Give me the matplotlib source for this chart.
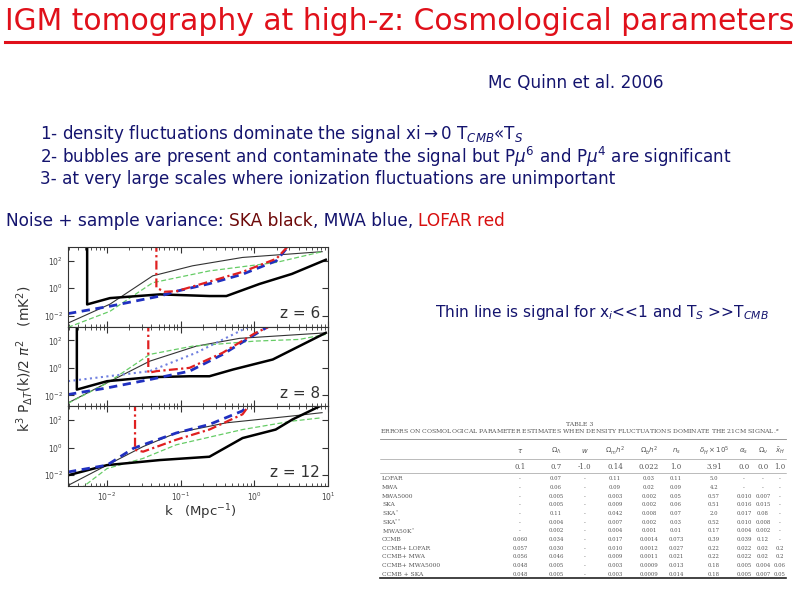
import numpy as np
import matplotlib
matplotlib.use('Agg')
import matplotlib.pyplot as plt
from matplotlib.lines import Line2D
from matplotlib.ticker import NullLocator, LogLocator

W, H = 794, 595

# 面板数据 (log10 k, log10 P) 读自图片
z6_ska_lk = [-2.27, -2.27, -1.96, -1.28, -0.61, -0.38, 0.07, 0.51, 0.97]
z6_ska_lp = [3.3, -1.18, -0.72, -0.45, -0.57, -0.57, 0.31, 1.04, 2.07]
z6_sig_lk = [-2.53, -1.96, -1.38, -0.84, -0.16, 0.92]
z6_sig_lp = [-2.54, -1.16, 0.90, 1.63, 2.24, 2.66]
z6_grn_lk = [-2.53, -1.96, -1.38, -0.61, 0.30, 0.92]
z6_grn_lp = [-2.85, -1.68, 0.40, 1.26, 1.88, 2.66]
z6_mwa_lk = [-2.53, -1.96, -1.28, -1.05, -0.61, -0.16, 0.30, 0.50]
z6_mwa_lp = [-1.85, -1.31, -0.57, -0.21, 0.33, 1.02, 2.00, 3.3]
z6_lof_lk = [-1.33, -1.33, -1.22, -1.05, -0.61, -0.16, 0.30, 0.50]
z6_lof_lp = [3.3, 0.04, -0.26, -0.21, 0.48, 1.19, 2.15, 3.3]

z8_ska_lk = [-2.41, -2.41, -2.00, -1.42, -0.88, -0.61, -0.29, 0.25, 0.97]
z8_ska_lp = [3.3, -1.58, -0.97, -0.68, -0.61, -0.61, -0.12, 0.61, 2.55]
z8_sig_lk = [-2.53, -2.00, -1.42, -0.79, -0.20, 0.97]
z8_sig_lp = [-2.55, -1.09, 0.49, 1.58, 2.15, 2.55]
z8_grn_lk = [-2.53, -2.00, -1.42, -0.84, 0.01, 0.61, 0.97]
z8_grn_lp = [-2.58, -1.11, 0.98, 1.58, 1.95, 2.07, 2.44]
z8_dot_lk = [-2.53, -1.42, -0.79, 0.00]
z8_dot_lp = [-0.97, -0.24, 1.10, 3.2]
z8_mwa_lk = [-2.53, -2.00, -1.42, -0.88, -0.43, 0.01, 0.28]
z8_mwa_lp = [-1.94, -1.46, -0.85, -0.24, 0.98, 2.44, 3.3]
z8_lof_lk = [-1.44, -1.44, -1.33, -0.88, -0.43, 0.01, 0.32]
z8_lof_lp = [3.3, -0.36, -0.24, 0.00, 1.10, 2.53, 3.3]

z12_ska_lk = [-2.53, -2.00, -1.28, -0.61, -0.16, 0.29, 0.52, 0.92]
z12_ska_lp = [-2.02, -1.28, -0.91, -0.67, 0.69, 1.31, 2.05, 3.09]
z12_sig_lk = [-2.53, -2.00, -1.51, -1.06, -0.38, 0.52, 0.92]
z12_sig_lp = [-2.76, -1.28, 0.07, 1.06, 1.80, 2.30, 2.54]
z12_grn_lk = [-2.36, -2.00, -1.51, -1.06, -0.16, 0.52, 0.92]
z12_grn_lp = [-3.0, -1.53, -0.79, 0.20, 1.31, 1.93, 2.17]
z12_mwa_lk = [-2.53, -2.00, -1.64, -1.06, -0.61, -0.16, -0.05]
z12_mwa_lp = [-1.78, -1.28, -0.05, 1.06, 1.68, 2.67, 3.3]
z12_lof_lk = [-1.62, -1.62, -1.51, -1.06, -0.61, -0.16, -0.04]
z12_lof_lp = [3.3, -0.17, -0.30, 0.57, 1.31, 2.42, 3.3]

redshifts = ['z = 6', 'z = 8', 'z = 12']

# 表格数据
tbl_cols = [r'$\tau$', r'$\Omega_\Lambda$', r'$w$', r'$\Omega_m h^2$', r'$\Omega_b h^2$',
            r'$n_s$', r'$\delta_H\times10^5$', r'$\alpha_s$', r'$\Omega_\nu$', r'$\bar{x}_H$']
tbl_fid = ['0.1', '0.7', '-1.0', '0.14', '0.022', '1.0', '3.91', '0.0', '0.0', '1.0']
tbl_rows = ['LOFAR', 'MWA', 'MWA5000', 'SKA', r'SKA$^*$', r'SKA$^{**}$', r'MWA50K$^*$',
            'CCMB', 'CCMB+ LOFAR', 'CCMB+ MWA', 'CCMB+ MWA5000', 'CCMB + SKA']
tbl_vals = [
    ['-', '0.07', '-', '0.11', '0.03', '0.11', '5.0', '-', '-', '-'],
    ['-', '0.06', '-', '0.09', '0.02', '0.09', '4.2', '-', '-', '-'],
    ['-', '0.005', '-', '0.003', '0.002', '0.05', '0.57', '0.010', '0.007', '-'],
    ['-', '0.005', '-', '0.009', '0.002', '0.06', '0.51', '0.016', '0.015', '-'],
    ['-', '0.11', '-', '0.042', '0.008', '0.07', '2.0', '0.017', '0.08', '-'],
    ['-', '0.004', '-', '0.007', '0.002', '0.03', '0.52', '0.010', '0.008', '-'],
    ['-', '0.002', '-', '0.004', '0.001', '0.01', '0.17', '0.004', '0.002', '-'],
    ['0.060', '0.034', '-', '0.017', '0.0014', '0.073', '0.39', '0.039', '0.12', '-'],
    ['0.057', '0.030', '-', '0.010', '0.0012', '0.027', '0.22', '0.022', '0.02', '0.2'],
    ['0.056', '0.046', '-', '0.009', '0.0011', '0.021', '0.22', '0.022', '0.02', '0.2'],
    ['0.048', '0.005', '-', '0.003', '0.0009', '0.013', '0.18', '0.005', '0.004', '0.06'],
    ['0.048', '0.005', '-', '0.003', '0.0009', '0.014', '0.18', '0.005', '0.007', '0.05'],
]

NAVY = '#14146e'
RED = '#e0101a'

fig = plt.figure(figsize=(W / 100, H / 100), dpi=100)
renderer = fig.canvas.get_renderer()


def fx(x):
    return x / W


def fy(y):
    return 1 - y / H


def fit(x, y, s, width, color, ha='left', **kw):
    # 按像素宽度缩放字号
    t = fig.text(fx(x), fy(y), s, color=color, ha=ha, va='center', fontsize=12, **kw)
    bb = t.get_window_extent(renderer)
    t.set_fontsize(12 * width / bb.width)
    return t


# 标题
fit(5, 22, 'IGM tomography at high-z: Cosmological parameters', 785, RED)
fig.add_artist(Line2D([fx(5), fx(790)], [fy(42), fy(42)], color=RED, lw=2.2))

fit(488, 83, 'Mc Quinn et al. 2006', 175, NAVY)
t3 = fit(40, 179, '3- at very large scales where ionization fluctuations are unimportant', 573, NAVY)
body_fs = t3.get_fontsize()
fig.text(fx(40), fy(134), r'1- density fluctuations dominate the signal xi$\rightarrow$0 T$_{CMB}$«T$_S$',
         color=NAVY, fontsize=body_fs, va='center')
fig.text(fx(40), fy(157), r'2- bubbles are present and contaminate the signal but P$\mu^6$ and P$\mu^4$ are significant',
         color=NAVY, fontsize=body_fs, va='center')
fit(435, 312, r'Thin line is signal for x$_i$<<1 and T$_S$ >>T$_{CMB}$', 333, NAVY)

# 多色一行
t0 = fit(6, 221, 'Noise + sample variance: SKA black, MWA blue, LOFAR red', 498, NAVY)
fs = t0.get_fontsize()
t0.remove()
x = 6
for part, col in [('Noise + sample variance: ', NAVY), ('SKA black', '#6e0a0a'),
                  (', MWA blue, ', NAVY), ('LOFAR red', '#d81010')]:
    t = fig.text(fx(x), fy(221), part, color=col, fontsize=fs, va='center', ha='left')
    x += t.get_window_extent(renderer).width

# 三个面板
panel_top, panel_bot = 247, 486
ph = (panel_bot - panel_top) / 3
panels = [
    [(z6_sig_lk, z6_sig_lp, 'sig'), (z6_grn_lk, z6_grn_lp, 'grn'), (z6_ska_lk, z6_ska_lp, 'ska'),
     (z6_mwa_lk, z6_mwa_lp, 'mwa'), (z6_lof_lk, z6_lof_lp, 'lof')],
    [(z8_sig_lk, z8_sig_lp, 'sig'), (z8_grn_lk, z8_grn_lp, 'grn'), (z8_ska_lk, z8_ska_lp, 'ska'),
     (z8_dot_lk, z8_dot_lp, 'dot'), (z8_mwa_lk, z8_mwa_lp, 'mwa'), (z8_lof_lk, z8_lof_lp, 'lof')],
    [(z12_sig_lk, z12_sig_lp, 'sig'), (z12_grn_lk, z12_grn_lp, 'grn'), (z12_ska_lk, z12_ska_lp, 'ska'),
     (z12_mwa_lk, z12_mwa_lp, 'mwa'), (z12_lof_lk, z12_lof_lp, 'lof')],
]
styles = {
    'sig': dict(color='#333333', lw=0.8),
    'grn': dict(color='#66cc66', lw=0.9, dashes=(4, 2)),
    'ska': dict(color='black', lw=1.8),
    'dot': dict(color='#7080e0', lw=1.5, ls=':'),
    'mwa': dict(color='#2030c0', lw=2.0, dashes=(3, 2)),
    'lof': dict(color='#e02020', lw=1.6, dashes=(4, 1.5, 1, 1.5)),
}

axes = []
for i, series in enumerate(panels):
    top = panel_top + i * ph
    ax = fig.add_axes([fx(68), fy(top + ph), fx(328) - fx(68), ph / H])
    for lk, lp, kind in series:
        ax.plot(10 ** np.array(lk), 10 ** np.array(lp), **styles[kind])
    ax.set_xscale('log')
    ax.set_yscale('log')
    ax.set_xlim(10 ** -2.53, 10)
    ax.set_ylim(10 ** -2.8, 10 ** 3)
    ax.set_yticks([1e-2, 1, 1e2])
    ax.yaxis.set_minor_locator(NullLocator())
    ax.xaxis.set_major_locator(LogLocator(base=10))
    ax.tick_params(which='both', direction='in', top=True, right=True,
                   labelsize=5.5, labelcolor='#444444', color='#333333')
    ax.tick_params(which='major', length=4)
    ax.tick_params(which='minor', length=2)
    for sp in ax.spines.values():
        sp.set_color('#333333')
        sp.set_linewidth(0.8)
    if i < 2:
        ax.set_xticklabels([])
    ax.text(0.97, 0.07, redshifts[i], transform=ax.transAxes, ha='right', va='bottom',
            fontsize=11, color='#333333')
    axes.append(ax)

fig.text(fx(25), fy(359), r'k$^3$ P$_{\Delta T}$(k)/2 $\pi^2$   (mK$^2$)', rotation=90,
         ha='center', va='center', fontsize=10, color='#333333')
fig.text(fx(200), fy(512), r'k   (Mpc$^{-1}$)', ha='center', va='center', fontsize=9.5, color='#333333')

# 表格
TG = '#555555'
fig.text(fx(580), fy(425), 'TABLE 3', ha='center', va='center', fontsize=4.5, color=TG, family='DejaVu Serif')
fit(380, 432, 'ERRORS ON COSMOLOGICAL PARAMETER ESTIMATES WHEN DENSITY FLUCTUATIONS DOMINATE THE 21CM SIGNAL.$^a$',
    398, TG, family='DejaVu Serif')
col_x = [520, 556, 585, 615, 649, 676, 714, 744, 763, 780]
for yy, lw in [(439, 0.6), (459, 0.4), (473, 0.4), (578, 1.2)]:
    fig.add_artist(Line2D([fx(380), fx(786)], [fy(yy), fy(yy)], color='#222222' if lw > 1 else '#888888', lw=lw))
for cx, h, f in zip(col_x, tbl_cols, tbl_fid):
    fig.text(fx(cx), fy(451), h, ha='center', va='center', fontsize=5, color=TG)
    fig.text(fx(cx), fy(467), f, ha='center', va='center', fontsize=5, color=TG, family='DejaVu Serif')
row_step = (574.3 - 479) / (len(tbl_rows) - 1)
for r, (name, vals) in enumerate(zip(tbl_rows, tbl_vals)):
    yy = 479 + r * row_step
    fig.text(fx(382), fy(yy), name, ha='left', va='center', fontsize=4.3, color=TG, family='DejaVu Serif')
    for cx, v in zip(col_x, vals):
        fig.text(fx(cx), fy(yy), v, ha='center', va='center', fontsize=3.9, color=TG, family='DejaVu Serif')

fig.savefig('out.png', dpi=100)
